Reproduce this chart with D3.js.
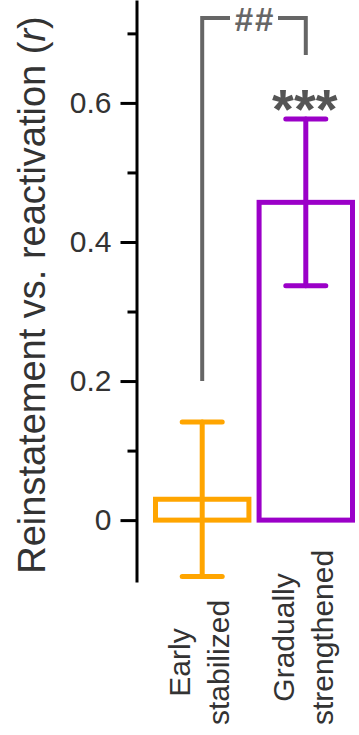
<!DOCTYPE html>
<html>
<head>
<meta charset="utf-8">
<script src="https://cdn.jsdelivr.net/npm/d3@7"></script>
<style>
  html, body { margin: 0; padding: 0; background: #fff; }
  svg { display: block; font-family: "Liberation Sans", Arial, sans-serif; }
</style>
</head>
<body>
<svg id="chart" width="359" height="735"></svg>
<script>
// Data
const categories = ["Early stabilized", "Gradually strengthened"];
const categoryLines = [["Early", "stabilized"], ["Gradually", "strengthened"]];
const means = [0.03, 0.457];
const sems = [0.111, 0.12];
const barColors = ["#FFA500", "#9B00C8"];
const majorTicks = [0, 0.2, 0.4, 0.6];
const tickLabels = ["0", "0.2", "0.4", "0.6"];
const minorTicks = [0.1, 0.3, 0.5, 0.7];
const bracketLevels = [0.2, 0.722, 0.669]; // left foot, top, right foot
const bracketText = "##";
const starText = "***";

const svg = d3.select("#chart");
const axisX = 136.5;
const textColor = "#333";

const y = d3.scaleLinear().domain([-0.089, 0.748]).range([582, 0]);
const x = d3.scaleBand().domain(categories).range([153, 355]).paddingInner(0.05);
const center = d => x(d) + x.bandwidth() / 2;

// Y axis: major ticks with labels
const gMajor = svg.append("g").attr("transform", `translate(${axisX},0)`)
  .call(d3.axisLeft(y)
    .tickValues(majorTicks)
    .tickFormat(d => tickLabels[majorTicks.indexOf(d)])
    .tickSize(16)
    .tickPadding(9)
    .tickSizeOuter(0));
gMajor.select(".domain").attr("stroke", "#000").attr("stroke-width", 3);
gMajor.selectAll(".tick line").attr("stroke", "#000").attr("stroke-width", 3);
gMajor.selectAll(".tick text")
  .attr("fill", textColor)
  .attr("font-size", 30)
  .attr("font-family", "'Liberation Sans', Arial, sans-serif");

// Y axis: minor ticks
const gMinor = svg.append("g").attr("transform", `translate(${axisX},0)`)
  .call(d3.axisLeft(y).tickValues(minorTicks).tickFormat("").tickSize(9).tickSizeOuter(0));
gMinor.select(".domain").remove();
gMinor.selectAll(".tick line").attr("stroke", "#000").attr("stroke-width", 3);

// Y axis title
const title = svg.append("text")
  .attr("transform", "translate(45,295) rotate(-90)")
  .attr("text-anchor", "middle")
  .attr("font-size", 38)
  .attr("fill", textColor);
title.append("tspan").text("Reinstatement vs. reactivation (");
title.append("tspan").attr("font-style", "italic").text("r");
title.append("tspan").text(")");

// Outlined bars
const bw = 5;
svg.selectAll("rect.bar").data(categories).join("rect")
  .attr("class", "bar")
  .attr("x", d => x(d) + bw / 2)
  .attr("width", x.bandwidth() - bw)
  .attr("y", (d, i) => y(means[i]))
  .attr("height", (d, i) => y(0) - y(means[i]))
  .attr("fill", "none")
  .attr("stroke", (d, i) => barColors[i])
  .attr("stroke-width", bw);

// Error bars (mean ± SEM)
const capHalf = 20;
const err = svg.selectAll("g.err").data(categories).join("g").attr("class", "err")
  .attr("stroke", (d, i) => barColors[i])
  .attr("stroke-width", 5)
  .attr("stroke-linecap", "round");
err.append("line")
  .attr("x1", d => center(d)).attr("x2", d => center(d))
  .attr("y1", (d, i) => y(means[i] - sems[i]))
  .attr("y2", (d, i) => y(means[i] + sems[i]));
err.append("line")
  .attr("x1", d => center(d) - capHalf).attr("x2", d => center(d) + capHalf)
  .attr("y1", (d, i) => y(means[i] + sems[i]))
  .attr("y2", (d, i) => y(means[i] + sems[i]));
err.append("line")
  .attr("x1", d => center(d) - capHalf).attr("x2", d => center(d) + capHalf)
  .attr("y1", (d, i) => y(means[i] - sems[i]))
  .attr("y2", (d, i) => y(means[i] - sems[i]));

// Between-group significance bracket
const bx0 = center(categories[0]);
const bx1 = center(categories[1]);
const bmid = (bx0 + bx1) / 2;
const gapHalf = 24;
const bracketPath = d3.path();
bracketPath.moveTo(bx0, y(bracketLevels[0]));
bracketPath.lineTo(bx0, y(bracketLevels[1]));
bracketPath.lineTo(bmid - gapHalf, y(bracketLevels[1]));
bracketPath.moveTo(bmid + gapHalf, y(bracketLevels[1]));
bracketPath.lineTo(bx1, y(bracketLevels[1]));
bracketPath.lineTo(bx1, y(bracketLevels[2]));
svg.append("path")
  .attr("d", bracketPath.toString())
  .attr("fill", "none")
  .attr("stroke", "#666")
  .attr("stroke-width", 4)
  .attr("stroke-linejoin", "miter");
svg.append("text")
  .attr("x", bmid + 1)
  .attr("y", y(bracketLevels[1]) + 13)
  .attr("text-anchor", "middle")
  .attr("font-size", 33)
  .attr("font-weight", "bold")
  .attr("letter-spacing", 2)
  .attr("fill", "#666")
  .text(bracketText);

// Within-group significance stars
svg.append("text")
  .attr("x", bx1 - 1)
  .attr("y", y(means[1] + sems[1]) + 9)
  .attr("text-anchor", "middle")
  .attr("font-size", 56)
  .attr("font-weight", "bold")
  .attr("fill", "#555")
  .text(starText);

// Category labels (rotated, two lines, centered within their block)
const lineOffsets = [-12, 27];
const labG = svg.selectAll("g.xlab").data(categories).join("g")
  .attr("class", "xlab")
  .attr("transform", d => `translate(${center(d)},725) rotate(-90)`);
labG.each(function (d, i) {
  const g = d3.select(this);
  const texts = categoryLines[i].map((line, j) =>
    g.append("text")
      .attr("y", lineOffsets[j])
      .attr("text-anchor", "middle")
      .attr("font-size", 30)
      .attr("fill", textColor)
      .text(line));
  const maxLen = d3.max(texts, t => t.node().getComputedTextLength());
  texts.forEach(t => t.attr("x", maxLen / 2));
});
</script>
</body>
</html>
